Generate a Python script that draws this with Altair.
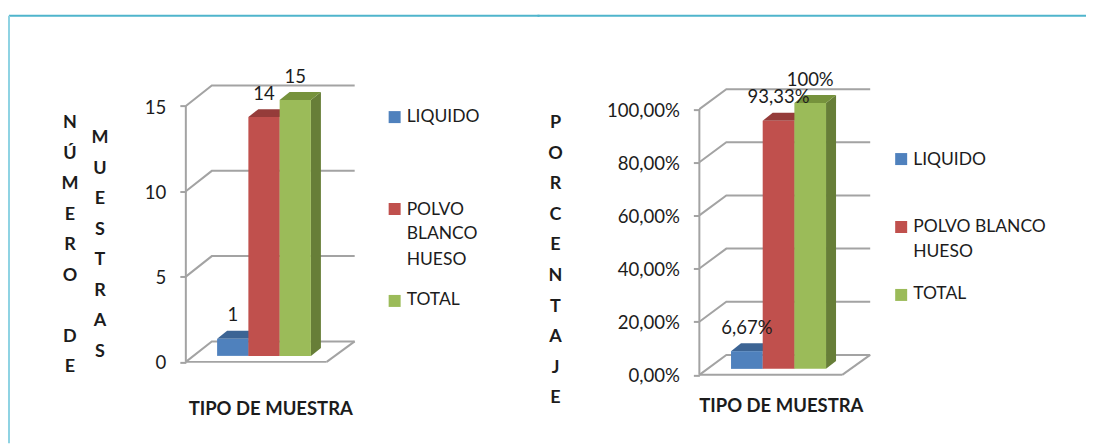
import altair as alt
import pandas as pd

# ---- data ----
SERIES = ["LIQUIDO", "POLVO BLANCO HUESO", "TOTAL"]
COUNTS = [1, 14, 15]
COUNT_LABELS = ["1", "14", "15"]
COUNT_TICKS = [0, 5, 10, 15]
PERCENTS = [6.67, 93.33, 100]
PERCENT_LABELS = ["6,67%", "93,33%", "100%"]
PERCENT_TICKS = [0, 20, 40, 60, 80, 100]

FRONT = ["#4F81BD", "#C0504D", "#9BBB59"]
TOP = ["#3C6494", "#953C3A", "#76923C"]
SIDE = ["#3C6494", "#953C3A", "#677E38"]
GRID = "#A3A3A3"
INK = "#1c1c1c"
FONT = "Lato"
T = 14.5      # page y of panel top
H = 428

FACES = [f"front{i}" for i in range(3)] + [f"top{i}" for i in range(3)] + [f"side{i}" for i in range(3)]
FACE_COLORS = FRONT + TOP + SIDE
COLOR = alt.Color("f:N", scale=alt.Scale(domain=FACES, range=FACE_COLORS), legend=None)


def panel(values, labels, ticks, left, width, bw, ppu, zero_y, dx, dy, floor_w, back_r,
          label_expr, legend, letters, title_xy, rule_from, rule_to, border_left):
    depth_x, depth_y = dx / bw, dy / ppu
    base = 6 / ppu                 # bar base above the front floor edge
    bar_dx, bar_dy = 10 / bw, 8 / ppu
    xs = alt.Scale(domain=[0, width / bw], range=[0, width])
    ys = alt.Scale(domain=[(zero_y - (T + H)) / ppu, (zero_y - T) / ppu], range=[H, 0])
    axis = alt.Axis(values=ticks, domain=False, grid=False, tickColor=GRID, tickWidth=2, tickSize=6,
                    labelFont=FONT, labelFontSize=18.6, labelColor=INK, labelPadding=14,
                    labelOffset=1, labelExpr=label_expr)
    X = lambda f: alt.X(f, scale=xs, axis=None, title=None)
    Y = lambda f: alt.Y(f, scale=ys, axis=axis, title=None, stack=None)

    # wall and floor lines
    rows = []
    for t in ticks:
        for i, (a, b) in enumerate([(0, t), (depth_x, t + depth_y), (back_r / bw, t + depth_y)]):
            rows.append(dict(path=f"g{t}", i=i, x=a, y=b))
    for i, (a, b) in enumerate([(floor_w / bw, 0), (back_r / bw, depth_y)]):
        rows.append(dict(path="floor", i=i, x=a, y=b))
    for i, (a, b) in enumerate([(0, 0), (floor_w / bw, 0)]):
        rows.append(dict(path="front", i=i, x=a, y=b))
    for i, b in enumerate([0, ticks[-1]]):
        rows.append(dict(path="axis", i=i, x=0, y=b))
    lines = alt.Chart(pd.DataFrame(rows)).mark_line(color=GRID, strokeWidth=2, clip=False).encode(
        X("x:Q"), Y("y:Q"), detail="path:N", order="i:Q")

    # bar faces
    side, top, front, text = [], [], [], []
    for k, (v, lab) in enumerate(zip(values, labels)):
        x0, x1 = k + 1, k + 2
        t = v + base
        front.append(dict(f=f"front{k}", x=x0, x2=x1, y=base, y2=t))
        side += [dict(f=f"side{k}", x=x1, y=base, y2=t),
                 dict(f=f"side{k}", x=x1 + bar_dx, y=base + bar_dy, y2=t + bar_dy)]
        top += [dict(f=f"top{k}", x=x0, y=t, y2=t),
                dict(f=f"top{k}", x=x0 + bar_dx, y=t, y2=t + bar_dy),
                dict(f=f"top{k}", x=x1, y=t, y2=t + bar_dy),
                dict(f=f"top{k}", x=x1 + bar_dx, y=t + bar_dy, y2=t + bar_dy)]
        text.append(dict(x=(x0 + x1) / 2, y=t, t=lab))
    c_side = alt.Chart(pd.DataFrame(side)).mark_area(opacity=1, clip=False).encode(
        X("x:Q"), Y("y:Q"), alt.Y2("y2:Q"), COLOR)
    c_top = alt.Chart(pd.DataFrame(top)).mark_area(opacity=1, clip=False).encode(
        X("x:Q"), Y("y:Q"), alt.Y2("y2:Q"), COLOR)
    c_front = alt.Chart(pd.DataFrame(front)).mark_rect(opacity=1, clip=False).encode(
        X("x:Q"), alt.X2("x2:Q"), Y("y:Q"), alt.Y2("y2:Q"), COLOR)
    c_text = alt.Chart(pd.DataFrame(text)).mark_text(
        font=FONT, fontSize=18.5, color=INK, dy=-23.5, baseline="middle", clip=False).encode(
        X("x:Q"), Y("y:Q"), text="t:N")

    one = pd.DataFrame({"o": [0]})
    extras = []
    # legend
    for k, (sx, sy, tx, rows_) in enumerate(legend):
        extras.append(alt.Chart(one).mark_rect(color=FRONT[k]).encode(
            x=alt.value(sx - left), x2=alt.value(sx + 12 - left),
            y=alt.value(sy - 6 - T), y2=alt.value(sy + 6 - T)))
        for ln, ty in rows_:
            extras.append(alt.Chart(one).mark_text(
                text=ln, font=FONT, fontSize=17.5, color=INK, align="left", baseline="middle").encode(
                x=alt.value(tx - left), y=alt.value(ty + 0.5 - T)))
    # vertical letters
    for lx, ly, col in letters:
        extras.append(alt.Chart(one).mark_text(
            text=col, font=FONT, fontSize=18, fontWeight="bold", color=INK, align="center",
            baseline="top", lineHeight=30.6).encode(x=alt.value(lx - left), y=alt.value(ly - T)))
    # x title
    extras.append(alt.Chart(one).mark_text(
        text="TIPO DE MUESTRA", font=FONT, fontSize=18.5, fontWeight="bold", color=INK,
        align="center", baseline="middle").encode(
        x=alt.value(title_xy[0] - left), y=alt.value(title_xy[1] + 1.5 - T)))
    # frame
    extras.append(alt.Chart(one).mark_rule(color="#4FB5CC", strokeWidth=2).encode(
        x=alt.value(rule_from - left), x2=alt.value(rule_to - left), y=alt.value(0)))
    if border_left:
        extras.append(alt.Chart(one).mark_rule(color="#8FD3E3", strokeWidth=2).encode(
            x=alt.value(rule_from - left), y=alt.value(0), y2=alt.value(H)))

    return alt.layer(lines, c_side, c_top, c_front, c_text, *extras).properties(width=width, height=H)


left = panel(
    COUNTS, COUNT_LABELS, COUNT_TICKS, left=186, width=354, bw=31.3, ppu=17.07, zero_y=361,
    dx=26, dy=20.5, floor_w=141, back_r=169,
    label_expr="datum.label",
    legend=[(389, 116, 407, [("LIQUIDO", 115)]),
            (389, 208, 407, [("POLVO", 208), ("BLANCO", 233), ("HUESO", 259)]),
            (389, 300, 407, [("TOTAL", 299)])],
    letters=[(70, 113, ["N", "Ú", "M", "E", "R", "O"]),
             (70, 327, ["D", "E"]),
             (100, 128, ["M", "U", "E", "S", "T", "R", "A", "S"])],
    title_xy=(271, 407), rule_from=9, rule_to=540, border_left=True)

right = panel(
    PERCENTS, PERCENT_LABELS, PERCENT_TICKS, left=700, width=387, bw=31.7, ppu=2.66, zero_y=374,
    dx=27, dy=20, floor_w=143, back_r=171,
    label_expr="replace(format(datum.value, '.2f'), '.', ',') + '%'",
    legend=[(896, 158, 914, [("LIQUIDO", 158)]),
            (896, 226, 914, [("POLVO BLANCO", 226), ("HUESO", 251)]),
            (896, 294, 914, [("TOTAL", 293)])],
    letters=[(556, 113, ["P", "O", "R", "C", "E", "N", "T", "A", "J", "E"])],
    title_xy=(782, 404), rule_from=538, rule_to=1087, border_left=False)

chart = alt.hconcat(left, right, spacing=-4).configure_view(stroke=None).properties(
    padding={"left": 0, "top": 6.5, "right": 0, "bottom": 0}, background="white")

chart.save("out.html", embed_options={"renderer": "svg", "actions": False})
